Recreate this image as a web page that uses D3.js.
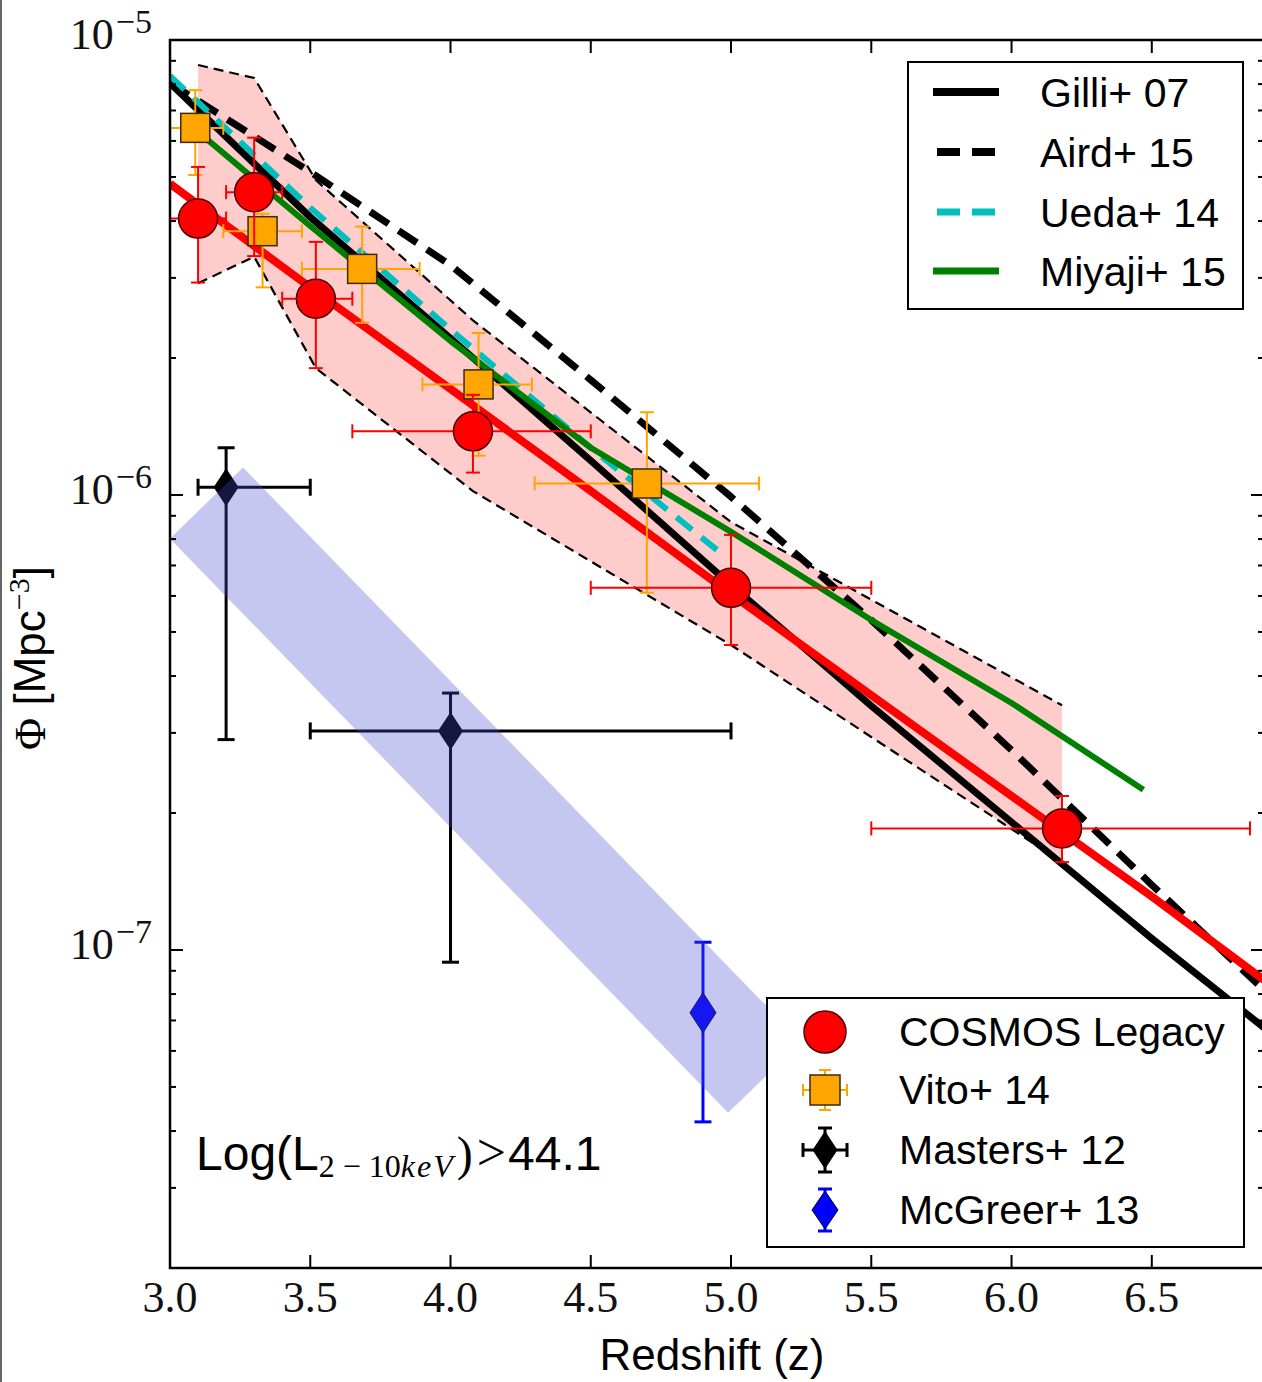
<!DOCTYPE html>
<html>
<head>
<meta charset="utf-8">
<script src="https://cdn.jsdelivr.net/npm/d3@7"></script>
<style>
  body { margin: 0; background: #fff; }
  svg { display: block; }
</style>
</head>
<body>
<svg id="chart" width="1262" height="1382"></svg>
<script>
// ---- COSMOS Legacy space densities (z > 3, Log L(2-10 keV) > 44.1) ----
const cosmosZ     = [3.10, 3.30, 3.52, 4.08, 5.00, 6.18];
const cosmosZLo   = [3.00, 3.20, 3.40, 3.65, 4.50, 5.50];
const cosmosZHi   = [3.20, 3.40, 3.65, 4.50, 5.50, 6.85];
const cosmosPhi   = [4.05e-6, 4.63e-6, 2.70e-6, 1.38e-6, 6.25e-7, 1.85e-7];
const cosmosPhiLo = [2.93e-6, 3.35e-6, 1.90e-6, 1.12e-6, 4.68e-7, 1.56e-7];
const cosmosPhiHi = [5.26e-6, 6.10e-6, 3.60e-6, 1.66e-6, 8.17e-7, 2.18e-7];

// ---- COSMOS uncertainty envelope ----
const envZ  = [3.10, 3.30, 3.52, 4.08, 5.00, 6.18];
const envHi = [8.81e-6, 8.25e-6, 4.92e-6, 2.42e-6, 8.72e-7, 3.45e-7];
const envLo = [2.92e-6, 3.34e-6, 1.90e-6, 1.02e-6, 4.68e-7, 1.56e-7];

// ---- COSMOS best-fit trend ----
const fitZ   = [3.0, 3.5, 4.0, 4.5, 5.0, 5.5, 6.0, 6.5, 6.9];
const fitPhi = [4.83e-6, 2.86e-6, 1.71e-6, 1.02e-6, 6.06e-7, 3.63e-7, 2.18e-7, 1.31e-7, 8.59e-8];

// ---- Vito+ 14 ----
const vitoZ     = [3.09, 3.33, 3.685, 4.10, 4.70];
const vitoZLo   = [3.00, 3.19, 3.47, 3.90, 4.30];
const vitoZHi   = [3.19, 3.47, 3.89, 4.29, 5.10];
const vitoPhi   = [6.41e-6, 3.80e-6, 3.14e-6, 1.75e-6, 1.06e-6];
const vitoPhiLo = [5.05e-6, 2.86e-6, 2.39e-6, 1.22e-6, 6.10e-7];
const vitoPhiHi = [7.76e-6, 4.15e-6, 3.89e-6, 2.27e-6, 1.52e-6];

// ---- Masters+ 12 ----
const mastersZ     = [3.20, 4.00];
const mastersZLo   = [3.10, 3.50];
const mastersZHi   = [3.50, 5.00];
const mastersPhi   = [1.04e-6, 3.03e-7];
const mastersPhiLo = [2.90e-7, 9.40e-8];
const mastersPhiHi = [1.27e-6, 3.67e-7];

// ---- McGreer+ 13 ----
const mcgreerZ     = [4.90];
const mcgreerPhi   = [7.28e-8];
const mcgreerPhiLo = [4.19e-8];
const mcgreerPhiHi = [1.04e-7];

// ---- optical QSO trend band (centre line) ----
const qsoBandZ   = [3.13, 5.12];
const qsoBandPhi = [9.6e-7, 5.25e-8];

// ---- model predictions ----
const gilliZ   = [3.0, 3.5, 4.0, 4.5, 5.0, 5.5, 6.0, 6.5, 6.9];
const gilliPhi = [8.04e-6, 4.08e-6, 2.21e-6, 1.19e-6, 6.34e-7, 3.44e-7, 1.91e-7, 1.06e-7, 6.75e-8];
const airdZ    = [3.0, 3.5, 4.0, 4.5, 5.0, 5.5, 6.0, 6.5, 6.9];
const airdPhi  = [8.04e-6, 5.13e-6, 3.20e-6, 1.79e-6, 9.91e-7, 5.31e-7, 2.75e-7, 1.39e-7, 8.17e-8];
const uedaZ    = [3.0, 3.5, 4.0, 4.5, 4.95];
const uedaPhi  = [8.34e-6, 4.28e-6, 2.31e-6, 1.27e-6, 7.57e-7];
const miyajiZ   = [3.05, 3.5, 4.0, 4.5, 5.0, 5.5, 6.0, 6.47];
const miyajiPhi = [6.67e-6, 3.90e-6, 2.18e-6, 1.27e-6, 8.30e-7, 5.31e-7, 3.49e-7, 2.25e-7];

// ---- axis ticks ----
const xTicks      = [3.0, 3.5, 4.0, 4.5, 5.0, 5.5, 6.0, 6.5];
const xTickLabels = ["3.0", "3.5", "4.0", "4.5", "5.0", "5.5", "6.0", "6.5"];
const yMajor      = [1e-7, 1e-6, 1e-5];
const yMajorExp   = ["−7", "−6", "−5"];

// ---- legend entries ----
const modelNames  = ["Gilli+ 07", "Aird+ 15", "Ueda+ 14", "Miyaji+ 15"];
const sampleNames = ["COSMOS Legacy", "Vito+ 14", "Masters+ 12", "McGreer+ 13"];

// =====================================================================
const W = 1262, H = 1382;
const PL = 170, PR = 1264, PT = 40, PB = 1268;

const x = d3.scaleLinear().domain([3.0, 6.9]).range([PL, PR]);
const y = d3.scaleLog().domain([2e-8, 1e-5]).range([PB, PT]);

const svg = d3.select("#chart");
svg.append("rect").attr("width", W).attr("height", H).attr("fill", "#fff");
svg.append("line").attr("x1", 1).attr("x2", 1).attr("y1", 0).attr("y2", H)
  .attr("stroke", "#666").attr("stroke-width", 2);

svg.append("defs").append("clipPath").attr("id", "plotclip")
  .append("rect").attr("x", PL).attr("y", PT).attr("width", PR - PL).attr("height", PB - PT);

const plot = svg.append("g").attr("clip-path", "url(#plotclip)");

const zip = (zs, ps) => zs.map((z, i) => [z, ps[i]]);
const line = d3.line().x(d => x(d[0])).y(d => y(d[1]));

// envelope
const envData = envZ.map((z, i) => ({ z, lo: envLo[i], hi: envHi[i] }));
plot.append("path")
  .datum(envData)
  .attr("d", d3.area().x(d => x(d.z)).y0(d => y(d.lo)).y1(d => y(d.hi)))
  .attr("fill", "rgba(255,0,0,0.2)").attr("stroke", "none");
[envHi, envLo].forEach(arr => {
  plot.append("path").datum(zip(envZ, arr)).attr("d", line)
    .attr("fill", "none").attr("stroke", "#000").attr("stroke-width", 2.2)
    .attr("stroke-dasharray", "10,6");
});

// model curves
const models = [
  { z: gilliZ,  p: gilliPhi,  color: "#000",    w: 7, dash: null },
  { z: airdZ,   p: airdPhi,   color: "#000",    w: 7, dash: "22,12" },
  { z: uedaZ,   p: uedaPhi,   color: "#00bfbf", w: 6, dash: "20,12" },
  { z: miyajiZ, p: miyajiPhi, color: "#008000", w: 6, dash: null }
];
models.forEach(m => {
  const p = plot.append("path").datum(zip(m.z, m.p)).attr("d", line)
    .attr("fill", "none").attr("stroke", m.color).attr("stroke-width", m.w)
    .attr("stroke-linejoin", "round");
  if (m.dash) p.attr("stroke-dasharray", m.dash);
});

// COSMOS fit
plot.append("path").datum(zip(fitZ, fitPhi)).attr("d", line)
  .attr("fill", "none").attr("stroke", "#ff0000").attr("stroke-width", 8)
  .attr("stroke-linejoin", "round");

// error bars
function errorbars(g, zs, zlo, zhi, ps, plo, phi, color, w, cap) {
  zs.forEach((z, i) => {
    const cx = x(z), cy = y(ps[i]);
    if (zlo && zhi) {
      const x0 = x(zlo[i]), x1 = x(zhi[i]);
      g.append("line").attr("x1", x0).attr("x2", x1).attr("y1", cy).attr("y2", cy)
        .attr("stroke", color).attr("stroke-width", w);
      [x0, x1].forEach(xx => g.append("line").attr("x1", xx).attr("x2", xx)
        .attr("y1", cy - cap / 2).attr("y2", cy + cap / 2).attr("stroke", color).attr("stroke-width", w));
    }
    const y0 = y(plo[i]), y1 = y(phi[i]);
    g.append("line").attr("x1", cx).attr("x2", cx).attr("y1", y0).attr("y2", y1)
      .attr("stroke", color).attr("stroke-width", w);
    [y0, y1].forEach(yy => g.append("line").attr("y1", yy).attr("y2", yy)
      .attr("x1", cx - cap / 2).attr("x2", cx + cap / 2).attr("stroke", color).attr("stroke-width", w));
  });
}

const diamond = (cx, cy, hw, hh) =>
  `M${cx},${cy - hh}L${cx + hw},${cy}L${cx},${cy + hh}L${cx - hw},${cy}Z`;

// Masters+ 12
errorbars(plot, mastersZ, mastersZLo, mastersZHi, mastersPhi, mastersPhiLo, mastersPhiHi, "#000", 3, 17);
mastersZ.forEach((z, i) => plot.append("path")
  .attr("d", diamond(x(z), y(mastersPhi[i]), 12.5, 19)).attr("fill", "#000"));

// McGreer+ 13
errorbars(plot, mcgreerZ, null, null, mcgreerPhi, mcgreerPhiLo, mcgreerPhiHi, "#0000ff", 3, 17);
mcgreerZ.forEach((z, i) => plot.append("path")
  .attr("d", diamond(x(z), y(mcgreerPhi[i]), 13, 20)).attr("fill", "#0000ff")
  .attr("stroke", "#000033").attr("stroke-width", 1));

// Vito+ 14
errorbars(plot, vitoZ, vitoZLo, vitoZHi, vitoPhi, vitoPhiLo, vitoPhiHi, "#ffa500", 2, 14);
vitoZ.forEach((z, i) => plot.append("rect")
  .attr("x", x(z) - 14.5).attr("y", y(vitoPhi[i]) - 14.5).attr("width", 29).attr("height", 29)
  .attr("fill", "#ffa500").attr("stroke", "#3a2a10").attr("stroke-width", 1.5));

// COSMOS Legacy
errorbars(plot, cosmosZ, cosmosZLo, cosmosZHi, cosmosPhi, cosmosPhiLo, cosmosPhiHi, "#ff0000", 2, 14);
cosmosZ.forEach((z, i) => plot.append("circle")
  .attr("cx", x(z)).attr("cy", y(cosmosPhi[i])).attr("r", 19.5)
  .attr("fill", "#ff0000").attr("stroke", "#4a0000").attr("stroke-width", 1.5));

// optical QSO band
plot.append("path").datum(zip(qsoBandZ, qsoBandPhi)).attr("d", line)
  .attr("fill", "none").attr("stroke", "rgba(70,75,205,0.31)")
  .attr("stroke-width", 102).attr("stroke-linecap", "butt");

// ---- axes frame and ticks ----
const axes = svg.append("g");
const tickLine = (x1, y1, x2, y2) => axes.append("line")
  .attr("x1", x1).attr("y1", y1).attr("x2", x2).attr("y2", y2)
  .attr("stroke", "#000").attr("stroke-width", 2);

xTicks.forEach(t => {
  tickLine(x(t), PB, x(t), PB - 13);
  tickLine(x(t), PT, x(t), PT + 13);
});
const yAll = y.ticks();
yAll.forEach(t => {
  const major = yMajor.some(m => Math.abs(m - t) / m < 1e-6);
  const len = major ? 13 : 6;
  tickLine(PL, y(t), PL + len, y(t));
  tickLine(PR, y(t), PR - len, y(t));
});
axes.append("rect").attr("x", PL).attr("y", PT).attr("width", PR - PL).attr("height", PB - PT)
  .attr("fill", "none").attr("stroke", "#000").attr("stroke-width", 2.5);

// tick labels
const serif = "'Liberation Serif', 'DejaVu Serif', serif";
const sans = "'Liberation Sans', Arial, sans-serif";

xTicks.forEach((t, i) => {
  svg.append("text").attr("x", x(t)).attr("y", 1312)
    .attr("text-anchor", "middle").attr("font-family", serif).attr("font-size", 44)
    .attr("fill", "#111").text(xTickLabels[i]);
});
yMajor.forEach((t, i) => {
  const tx = svg.append("text").attr("x", 152).attr("y", y(t) + 9)
    .attr("text-anchor", "end").attr("font-family", serif).attr("font-size", 44).attr("fill", "#111");
  tx.append("tspan").text("10");
  tx.append("tspan").attr("dy", -16).attr("dx", 2).attr("font-size", 34).text(yMajorExp[i]);
});

// axis titles
svg.append("text").attr("x", 712).attr("y", 1370).attr("text-anchor", "middle")
  .attr("font-family", sans).attr("font-size", 44).attr("fill", "#000").text("Redshift (z)");

const yl = svg.append("text").attr("transform", "translate(45,658) rotate(-90)")
  .attr("text-anchor", "middle").attr("font-family", sans).attr("font-size", 44).attr("fill", "#000");
yl.append("tspan").attr("font-family", serif).text("Φ");
yl.append("tspan").text(" [Mpc");
yl.append("tspan").attr("dy", -16).attr("font-family", serif).attr("font-size", 30).text("−3");
yl.append("tspan").attr("dy", 16).text("]");

// luminosity cut annotation
const ann = svg.append("text").attr("x", 196).attr("y", 1170)
  .attr("font-family", sans).attr("font-size", 48).attr("fill", "#000");
ann.append("tspan").text("Log(L");
ann.append("tspan").attr("dy", 7).attr("font-family", serif).attr("font-size", 32).text("2 − 10");
ann.append("tspan").attr("font-family", serif).attr("font-size", 32).attr("font-style", "italic")
  .attr("letter-spacing", 2).text("keV");
ann.append("tspan").attr("dy", -7).attr("dx", 2).attr("font-family", serif).attr("font-size", 48).text(")");
ann.append("tspan").attr("dx", 4).attr("font-family", serif).attr("font-size", 52).text(">");
ann.append("tspan").attr("dx", 2).text("44.1");

// ---- legend: models ----
const leg1 = svg.append("g");
leg1.append("rect").attr("x", 908).attr("y", 62).attr("width", 335).attr("height", 247)
  .attr("fill", "#fff").attr("stroke", "#000").attr("stroke-width", 2);
const legRows1 = [92, 152, 212, 271];
models.forEach((m, i) => {
  const ly = legRows1[i];
  const l = leg1.append("line").attr("x1", m.dash ? 937 : 933).attr("x2", m.dash ? 995 : 999)
    .attr("y1", ly).attr("y2", ly).attr("stroke", m.color).attr("stroke-width", m.w + 1);
  if (m.dash) l.attr("stroke-dasharray", "23,12");
  leg1.append("text").attr("x", 1040).attr("y", ly + 15).attr("font-family", sans)
    .attr("font-size", 41).attr("fill", "#000").text(modelNames[i]);
});

// ---- legend: samples ----
const leg2 = svg.append("g");
leg2.append("rect").attr("x", 767).attr("y", 998).attr("width", 477).attr("height", 249)
  .attr("fill", "#fff").attr("stroke", "#000").attr("stroke-width", 2);
const legRows2 = [1032, 1090, 1150, 1210];
const mx = 825;
leg2.append("circle").attr("cx", mx).attr("cy", legRows2[0]).attr("r", 21)
  .attr("fill", "#ff0000").attr("stroke", "#4a0000").attr("stroke-width", 1.5);
function legErr(g, cx, cy, hx, hy, color, w, cap) {
  if (hx) {
    g.append("line").attr("x1", cx - hx).attr("x2", cx + hx).attr("y1", cy).attr("y2", cy).attr("stroke", color).attr("stroke-width", w);
    [cx - hx, cx + hx].forEach(xx => g.append("line").attr("x1", xx).attr("x2", xx).attr("y1", cy - cap / 2).attr("y2", cy + cap / 2).attr("stroke", color).attr("stroke-width", w));
  }
  g.append("line").attr("x1", cx).attr("x2", cx).attr("y1", cy - hy).attr("y2", cy + hy).attr("stroke", color).attr("stroke-width", w);
  [cy - hy, cy + hy].forEach(yy => g.append("line").attr("y1", yy).attr("y2", yy).attr("x1", cx - cap / 2).attr("x2", cx + cap / 2).attr("stroke", color).attr("stroke-width", w));
}
legErr(leg2, mx, legRows2[1], 22, 20, "#ffa500", 2, 12);
leg2.append("rect").attr("x", mx - 15).attr("y", legRows2[1] - 15).attr("width", 30).attr("height", 30)
  .attr("fill", "#ffa500").attr("stroke", "#3a2a10").attr("stroke-width", 1.5);
legErr(leg2, mx, legRows2[2], 22, 22, "#000", 3, 14);
leg2.append("path").attr("d", diamond(mx, legRows2[2], 12.5, 19)).attr("fill", "#000");
legErr(leg2, mx, legRows2[3], 0, 21, "#0000ff", 3, 14);
leg2.append("path").attr("d", diamond(mx, legRows2[3], 13, 19)).attr("fill", "#0000ff")
  .attr("stroke", "#000033").attr("stroke-width", 1);

sampleNames.forEach((n, i) => {
  leg2.append("text").attr("x", 899).attr("y", legRows2[i] + 14).attr("font-family", sans)
    .attr("font-size", 41).attr("fill", "#000").text(n);
});
</script>
</body>
</html>
